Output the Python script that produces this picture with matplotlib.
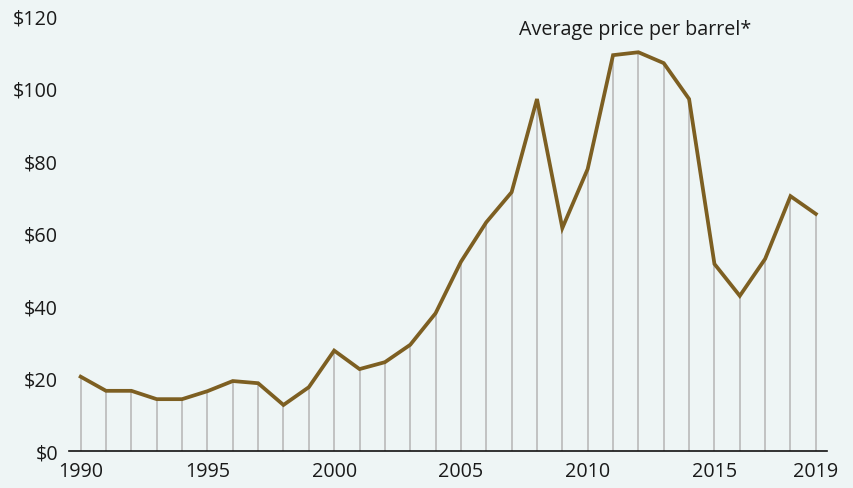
import numpy as np
import matplotlib.pyplot as plt

plt.rcParams["font.family"] = ["Open Sans", "DejaVu Sans"]

# Average oil price per barrel (USD)
years = list(range(1990, 2020))
price = [20.5, 16.6, 16.6, 14.3, 14.3, 16.5, 19.3, 18.7, 12.7, 17.6,
         27.7, 22.6, 24.5, 29.3, 38.0, 52.2, 63.1, 71.4, 97.1, 61.5,
         77.8, 109.2, 110.0, 107.0, 97.1, 51.6, 42.8, 53.0, 70.3, 65.4]
xticks = [1990, 1995, 2000, 2005, 2010, 2015, 2019]
yticks = [0, 20, 40, 60, 80, 100, 120]

fig = plt.figure(figsize=(8.54, 4.89), dpi=100)
fig.patch.set_facecolor("#eef5f5")
ax = fig.add_axes([69 / 854, 37 / 489, (827 - 69) / 854, (452 - 17) / 489])
ax.set_facecolor("none")

ax.vlines(years, 0, price, color="#b5b5b5", linewidth=1.1, zorder=1)
ax.plot(years, price, color="#7d5f22", linewidth=2.7, solid_joinstyle="miter", zorder=2)

ax.set_xlim(1989.54, 2019.44)
ax.set_ylim(0, 120)
ax.set_xticks(xticks)
ax.set_yticks(yticks)
ax.set_yticklabels([f"${v}" for v in yticks])
ax.tick_params(length=0, labelsize=14.2, colors="#1a1a1a")
ax.tick_params(axis="y", pad=8)
ax.tick_params(axis="x", pad=7)

for s in ["top", "right", "left"]:
    ax.spines[s].set_visible(False)
ax.spines["bottom"].set_color("#111111")
ax.spines["bottom"].set_linewidth(1.2)

ax.text(2007.28, 116.5, "Average price per barrel*", fontsize=14.2,
        color="#1a1a1a", va="center", ha="left")

fig.savefig("out.png", dpi=100, facecolor=fig.get_facecolor())
